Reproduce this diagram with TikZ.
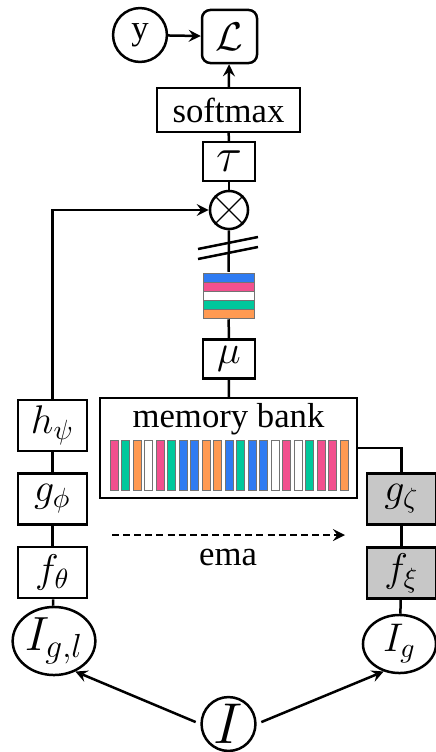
\documentclass[tikz,border=0pt]{standalone}
\usepackage{fontspec}
\setmainfont{Liberation Serif}
\usetikzlibrary{shapes.geometric}

\definecolor{bankblue}{HTML}{2F7BF2}
\definecolor{bankpink}{HTML}{F2508E}
\definecolor{bankgreen}{HTML}{00C89C}
\definecolor{bankorange}{HTML}{FF9A52}

\begin{document}
\begin{tikzpicture}[x=0.36pt, y=-0.36pt, >=stealth, line width=0.9pt,
        font=\rmfamily\fontsize{12.5}{14}\selectfont,
        blk/.style={rectangle, draw=black, inner sep=0pt, minimum width=24.8pt, minimum height=18.4pt, font=\fontsize{14}{16}\selectfont},
        tgt/.style={blk, fill=black!22},
        small/.style={rectangle, draw=black, inner sep=0pt, minimum width=18.7pt, minimum height=14pt, font=\fontsize{14}{16}\selectfont},
        rnd/.style={circle, draw=black, inner sep=0pt, minimum size=19.4pt},
        bar/.style={draw=black!55, line width=0.35pt}]

        \useasboundingbox (0,0) rectangle (436,752);

        % loss and head
        \node[rnd] (y) at (140,35) {y};
        \node[rectangle, rounded corners=3pt, draw=black, inner sep=0pt, minimum width=19.8pt, minimum height=19.1pt, font=\fontsize{14.4}{16}\selectfont] (L) at (229.5,36.5) {$\mathcal{L}$};
        \node[rectangle, draw=black, inner sep=0pt, minimum width=51.5pt, minimum height=15.8pt] (soft) at (228.5,110) {softmax};
        \node[small, font=\fontsize{17}{20}\selectfont] (tau) at (229,161.5) {$\tau$};
        \node[circle, draw=black, inner sep=0pt, minimum size=13.7pt] (ot) at (229,210) {};
        \draw[line width=0.5pt] (ot.45) -- (ot.225) (ot.135) -- (ot.-45);

        % prototypes
        \node[inner sep=0pt, minimum width=18.4pt, minimum height=16.2pt] (emb) at (228.5,295.5) {};
        \foreach \c [count=\i from 0] in {bankblue,bankpink,white,bankgreen,bankorange}
            \draw[bar, fill=\c] (203,{273+9*\i}) rectangle ++(51,9);
        \draw (198,249) -- (258,237);
        \draw (198,259) -- (258,247);
        \node[small] (mu) at (229,359) {$\mu$};

        % memory bank
        \node[rectangle, draw=black, inner sep=0pt, minimum width=92.5pt, minimum height=36pt] (mem) at (228.5,448) {};
        \node (memlbl) at (228.5,419) {memory bank};
        \foreach \c [count=\i from 0] in {bankpink,bankgreen,bankorange,white,bankpink,bankgreen,bankblue,bankblue,bankorange,bankorange,bankblue,bankgreen,bankblue,bankblue,white,bankpink,white,bankgreen,bankpink,bankpink,bankorange}
            \draw[bar, fill=\c] ({110+11.5*\i},440) rectangle ++(8.3,50);

        % online branch
        \node[blk] (hpsi) at (52.5,425.5) {$h_\psi$};
        \node[blk] (gphi) at (52.5,499) {$g_\phi$};
        \node[blk] (fth) at (52.5,572.5) {$f_\theta$};
        \node[ellipse, draw=black, inner sep=0pt, minimum width=28pt, minimum height=24.5pt, font=\fontsize{17}{20}\selectfont] (Igl) at (54,641) {$I_{g,l}$};

        % target branch
        \node[tgt] (gz) at (401.5,499) {$g_\zeta$};
        \node[tgt] (fxi) at (401.5,573) {$f_\xi$};
        \node[ellipse, draw=black, inner sep=0pt, minimum width=26.3pt, minimum height=20.9pt, font=\fontsize{14.4}{16}\selectfont] (Ig) at (399.5,644) {$I_g$};

        \node[rnd, font=\fontsize{20}{24}\selectfont] (I) at (228.5,724) {$I$};

        % ema
        \coordinate (emaL) at (112,535);
        \coordinate (emaR) at (345,535);
        \draw[->, dash pattern=on 2.5pt off 1.5pt] (emaL) -- (emaR);
        \node (ema) at (228,557) {ema};

        \draw[->] (y) -- (L);
        \draw[->] (soft) -- (L);
        \draw (tau) -- (soft);
        \draw (ot) -- (tau);
        \draw (ot) -- (emb);
        \draw (emb) -- (mu);
        \draw (mu) -- (mem);

        \draw[->] (hpsi) |- (ot);
        \draw (hpsi) -- (gphi);
        \draw (gphi) -- (fth);
        \draw (fth) -- (Igl);

        \draw (mem) -| (gz);
        \draw (gz) -- (fxi);
        \draw (fxi) -- (Ig);

        \draw[->, shorten <=1.8pt] (I.west) -- (Igl.-55);
        \draw[->, shorten <=1.8pt] (I.east) -- (Ig.-120);

    \end{tikzpicture}
\end{document}
